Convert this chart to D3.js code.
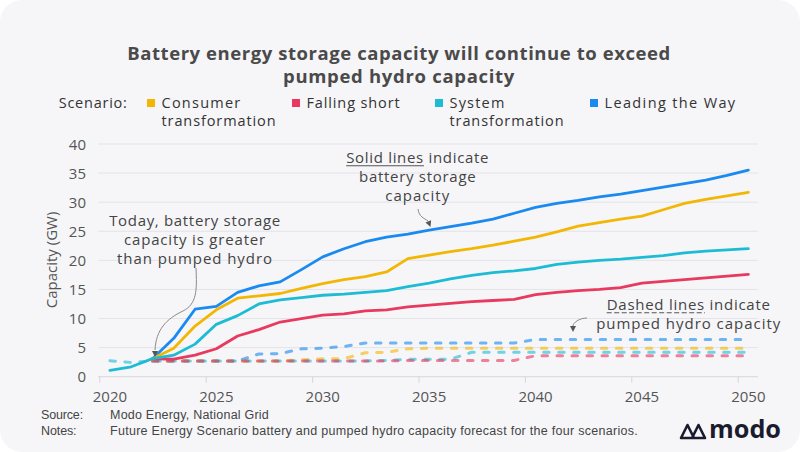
<!DOCTYPE html>
<html><head><meta charset="utf-8">
<script src="https://cdn.jsdelivr.net/npm/d3@7"></script>
<style>html,body{margin:0;padding:0;background:#fff;} svg{display:block;}</style>
</head><body>
<svg id="c" width="800" height="452"></svg>
<script>
// ---------------- DATA ----------------
const years = [2020,2021,2022,2023,2024,2025,2026,2027,2028,2029,2030,2031,2032,2033,2034,2035,2036,2037,2038,2039,2040,2041,2042,2043,2044,2045,2046,2047,2048,2049,2050];
const xTickYears = [2020,2025,2030,2035,2040,2045,2050];
const yTickValues = [0,5,10,15,20,25,30,35,40];
const scenarioNames = ["Consumer transformation","Falling short","System transformation","Leading the Way"];
const scenarioColors = ["#f2b705","#e8395f","#1dbcd4","#1a8af0"];

// Battery storage capacity (GW), solid lines
const batteryConsumer = [null,null,3.1,4.9,8.7,11.5,13.5,13.9,14.3,15.2,16.0,16.7,17.2,18.0,20.3,20.9,21.5,22.0,22.6,23.3,24.0,24.9,25.9,26.5,27.1,27.6,28.7,29.8,30.5,31.1,31.7];
const batteryFalling  = [null,null,3.1,3.0,3.7,4.8,7.0,8.1,9.4,10.0,10.6,10.8,11.3,11.5,12.0,12.3,12.6,12.9,13.1,13.3,14.1,14.5,14.8,15.0,15.3,16.1,16.4,16.7,17.0,17.3,17.6];
const batterySystem   = [1.1,1.7,3.1,3.7,5.6,9.0,10.5,12.5,13.2,13.6,14.0,14.2,14.5,14.8,15.5,16.1,16.8,17.4,17.9,18.2,18.6,19.3,19.7,20.0,20.2,20.5,20.8,21.3,21.6,21.8,22.0];
const batteryLeading  = [null,null,3.1,6.6,11.6,12.1,14.5,15.6,16.3,18.4,20.6,22.0,23.2,24.0,24.5,25.2,25.8,26.4,27.1,28.1,29.1,29.8,30.3,30.9,31.4,32.0,32.6,33.2,33.8,34.6,35.5];

// Pumped hydro capacity (GW), dashed lines
const hydroConsumer = [null,null,2.7,2.7,2.7,2.7,2.7,2.7,2.7,2.9,3.1,3.1,4.1,4.2,4.8,4.9,4.9,4.9,4.9,4.9,4.9,4.9,4.9,4.9,4.9,4.9,4.9,4.9,4.9,4.9,4.9];
const hydroFalling  = [null,null,2.7,2.7,2.7,2.7,2.7,2.7,2.7,2.7,2.7,2.7,2.7,2.7,2.8,2.8,2.8,2.8,2.8,2.8,3.6,3.6,3.6,3.6,3.6,3.6,3.6,3.6,3.6,3.6,3.6];
const hydroSystem   = [2.75,2.45,2.7,2.7,2.7,2.7,2.7,2.7,2.7,2.7,2.7,2.7,2.7,2.8,3.0,3.0,3.0,4.2,4.2,4.2,4.2,4.2,4.2,4.2,4.2,4.2,4.2,4.2,4.2,4.2,4.2];
const hydroLeading  = [null,null,2.7,2.7,2.7,2.7,2.7,3.9,3.95,4.8,4.9,5.2,5.8,5.8,5.8,5.8,5.8,5.8,5.8,5.8,6.4,6.4,6.4,6.4,6.4,6.4,6.4,6.4,6.4,6.4,6.4];

const batterySeries = [batteryConsumer,batteryFalling,batterySystem,batteryLeading];
const hydroSeries = [hydroConsumer,hydroFalling,hydroSystem,hydroLeading];

// ---------------- CHART ----------------
const svg = d3.select("#c");
const FONT = "'Open Sans', 'Noto Sans', sans-serif";
const FOOTFONT = "'Liberation Sans Narrow', 'Liberation Sans', sans-serif";
svg.append("rect").attr("x",0).attr("y",0).attr("width",800).attr("height",452).attr("rx",22).attr("fill","#f6f6f9");

function fitText(node, target){
  const len = node.getComputedTextLength();
  const fs = parseFloat(node.getAttribute("font-size"));
  node.setAttribute("font-size", (fs*target/len).toFixed(2));
}
function fitSpacing(node, target){
  const len = node.getComputedTextLength();
  const n = node.textContent.length;
  const ls = Math.max(-1, Math.min(1.5, (target-len)/n));
  node.setAttribute("letter-spacing", ls.toFixed(3));
}

const x = d3.scaleLinear().domain([2020,2050]).range([99.3,737.7]);
const y = d3.scaleLinear().domain([0,40]).range([376.7,144]);

// gridlines
svg.append("g").selectAll("line").data(yTickValues.filter(v=>v>0)).join("line")
  .attr("x1", x(2020)-1).attr("x2", x(2051)-1)
  .attr("y1", d=>y(d)).attr("y2", d=>y(d))
  .attr("stroke","#e3e3e8").attr("stroke-width",1);

// y axis labels
const yAxis = d3.axisLeft(y).tickValues(yTickValues).tickSize(0).tickPadding(0);
const yg = svg.append("g").attr("transform",`translate(${86},0)`).call(yAxis);
yg.select(".domain").remove();
yg.selectAll("text").attr("font-family",FONT).attr("font-size",15).attr("fill","#555").attr("dy","0.35em");

// x axis: ticks at year boundaries, labels at mid-year
const xAxis = d3.axisBottom(x).tickValues(xTickYears).tickSize(6).tickFormat("");
const xg = svg.append("g").attr("transform",`translate(0,${y(0)})`).call(xAxis);
xg.select(".domain").attr("d",`M${x(2020)-1},0H${x(2051)-1}`).attr("stroke","#d6d6dc");
xg.selectAll(".tick line").attr("stroke","#d6d6dc");
svg.append("g").selectAll("text").data(xTickYears).join("text")
  .attr("x", d=>x(d+0.5)).attr("y", 397).attr("dy","0.35em")
  .attr("text-anchor","middle").attr("font-family",FONT).attr("font-size",15).attr("fill","#555")
  .text(d=>d);

// y axis title
svg.append("text").attr("transform","translate(52,260) rotate(-90)")
  .attr("text-anchor","middle").attr("dy","0.35em")
  .attr("font-family",FONT).attr("font-size",15).attr("fill","#555").text("Capacity (GW)");

const line = d3.line().defined(d=>d!=null).x((d,i)=>x(years[i]+0.5)).y(d=>y(d));

// dashed hydro lines
[3,0,2,1].forEach(k=>{
  svg.append("path").datum(hydroSeries[k]).attr("d", line)
    .attr("fill","none").attr("stroke",scenarioColors[k]).attr("stroke-width",3)
    .attr("stroke-opacity",0.62).attr("stroke-linecap","round").attr("stroke-dasharray","5.5,9.5");
});
// solid battery lines
[3,0,1,2].forEach(k=>{
  svg.append("path").datum(batterySeries[k]).attr("d", line)
    .attr("fill","none").attr("stroke",scenarioColors[k]).attr("stroke-width",2.8)
    .attr("stroke-linejoin","round").attr("stroke-linecap","round");
});

// ---------------- TITLE ----------------
const titleLines = ["Battery energy storage capacity will continue to exceed","pumped hydro capacity"];
const titleW = [543.5, 232];
titleLines.forEach((t,i)=>{
  const n = svg.append("text").attr("x",399).attr("y",54+i*23).attr("dy","0.35em")
    .attr("text-anchor","middle").attr("font-family",FONT).attr("font-weight",700)
    .attr("font-size",18.5).attr("fill","#4a4a4a").text(t).node();
  fitSpacing(n, titleW[i]);
});

// ---------------- LEGEND ----------------
const legendText = (xx,yy,t,w)=>{
  const n = svg.append("text").attr("x",xx).attr("y",yy).attr("dy","0.35em")
    .attr("font-family",FONT).attr("font-size",14.5).attr("fill","#333").text(t).node();
  fitSpacing(n,w);
};
legendText(58.7,103.3,"Scenario:",69);
const legX = [147,292,435,590];
const legLines = [["Consumer","transformation"],["Falling short"],["System","transformation"],["Leading the Way"]];
const legW = [[80,115],[94],[56,115],[132]];
scenarioNames.forEach((s,k)=>{
  svg.append("rect").attr("x",legX[k]).attr("y",99).attr("width",8).attr("height",8).attr("fill",scenarioColors[k]);
  legLines[k].forEach((t,j)=>legendText(legX[k]+14.5,103.3+j*17.6,t,legW[k][j]));
});

// ---------------- ANNOTATIONS ----------------
function block(cx, ys, lines, widths){
  return lines.map((t,i)=>{
    const n = svg.append("text").attr("x",cx).attr("y",ys[i]).attr("dy","0.35em")
      .attr("text-anchor","middle").attr("font-family",FONT).attr("font-size",15)
      .attr("fill","#444").text(t).node();
    fitSpacing(n, widths[i]);
    return n;
  });
}
block(195,[220.7,240,259],["Today, battery storage","capacity is greater","than pumped hydro"],[171.7,142,156]);
const solidNodes = block(417.7,[158,176.7,196],["Solid lines indicate","battery storage","capacity"],[143,117.4,65]);
const dashNodes = block(688.7,[305,323.3],["Dashed lines indicate","pumped hydro capacity"],[164,185]);

function underline(node, nChars, dashed){
  const bb = node.getBBox();
  const w = node.getSubStringLength(0,nChars);
  const fs = parseFloat(node.getAttribute("font-size"));
  const baseY = parseFloat(node.getAttribute("y")) + fs*0.35;
  const l = svg.append("line").attr("x1",bb.x).attr("x2",bb.x+w).attr("y1",baseY+2.5).attr("y2",baseY+2.5)
    .attr("stroke","#555").attr("stroke-width",1);
  if(dashed) l.attr("stroke-dasharray","5,2.5");
}
underline(solidNodes[0],11,false);
underline(dashNodes[0],12,true);

// arrows
const arrow = (d, tip, dir)=>{
  svg.append("path").attr("d",d).attr("fill","none").attr("stroke","#8a8a8a").attr("stroke-width",1);
  const [tx,ty]=tip; const a = dir; const L=6, W=3;
  const bx = tx - L*Math.cos(a), by = ty - L*Math.sin(a);
  const px = -Math.sin(a)*W, py = Math.cos(a)*W;
  svg.append("path").attr("d",`M${tx},${ty}L${bx+px},${by+py}L${bx-px},${by-py}Z`).attr("fill","#555");
};
arrow("M196,268 C197,290 197,304 183,311 C166,319 156,330 155,350", [155,357], Math.PI/2);
arrow("M418,209 C419,217 424,218 428,221", [430.5,227], 1.2);
arrow("M587,318 C579,318 573,323 573,326", [573,332], Math.PI/2);

// ---------------- FOOTER ----------------
const foot = (xx,yy,t,w)=>{
  const n = svg.append("text").attr("x",xx).attr("y",yy).attr("dy","0.35em")
    .attr("font-family",FOOTFONT).attr("font-size",12.5).attr("fill","#444").text(t).node();
  fitSpacing(n,w);
};
foot(41,414.5,"Source:",42);
foot(110,414.5,"Modo Energy, National Grid",159);
foot(41,430.5,"Notes:",35.5);
foot(110,430.5,"Future Energy Scenario battery and pumped hydro capacity forecast for the four scenarios.",528);

// logo
svg.append("path").attr("d","M681,438 L687.5,425 L694,438 Z M692,438 L698.5,425 L705,438 Z")
  .attr("fill","none").attr("stroke","#1b1b2f").attr("stroke-width",2.6).attr("stroke-linejoin","round");
const logo = svg.append("text").attr("x",709).attr("y",438).attr("font-family",FONT).attr("font-weight",700)
  .attr("font-size",24).attr("fill","#1b1b2f").text("modo").node();
fitText(logo,72);
</script>
</body></html>
